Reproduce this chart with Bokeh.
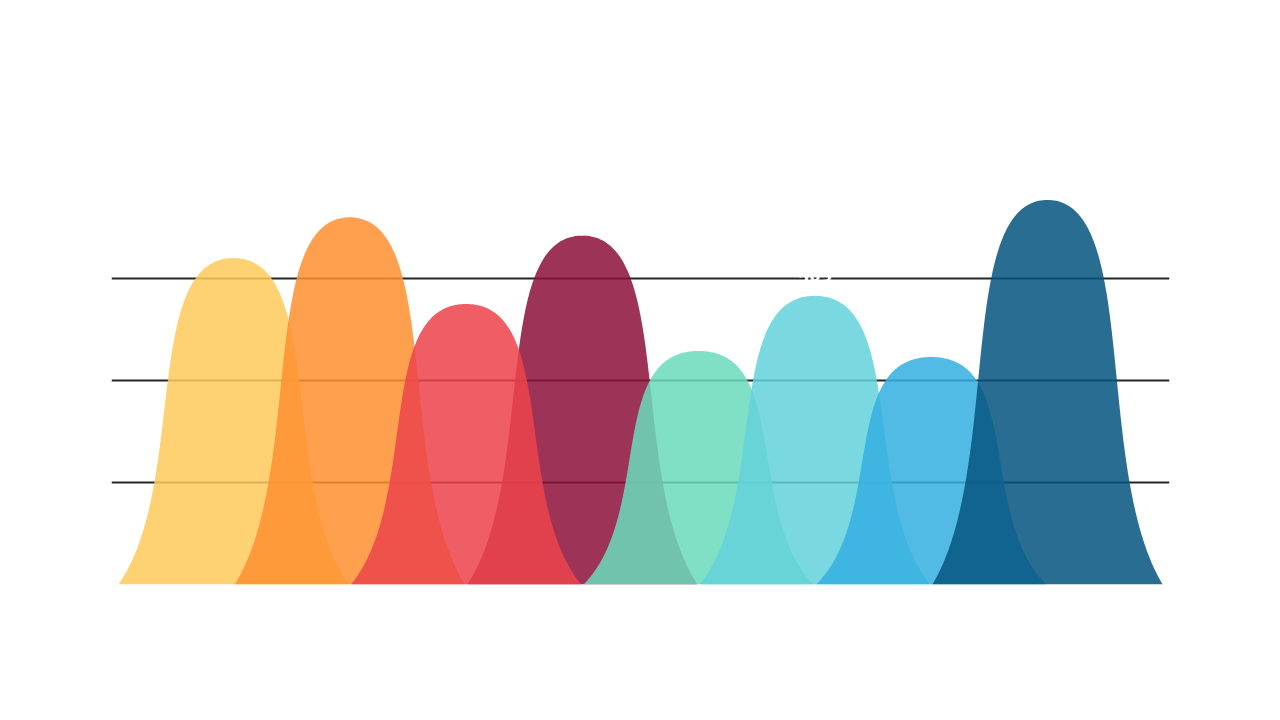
import numpy as np
from bokeh.plotting import figure
from bokeh.models import Range1d, FixedTicker, ColumnDataSource
from bokeh.core.properties import value
from bokeh.embed import file_html
from bokeh.resources import INLINE

# ---- data ----
categories = [0, 1, 2, 3, 4, 5, 6, 7]
values = [320, 360, 275, 342, 229, 283, 223, 377]
labels = [str(v) for v in values]
colors = ["#FEC95C", "#FE9031", "#EC434A", "#8E123D",
          "#6BDBBD", "#64D2DB", "#36B0E1", "#075580"]
draw_order = [0, 1, 3, 2, 4, 5, 6, 7]
grid_ticks = [100, 200, 300]

# ---- mountain symbol: right half is one cubic Bezier in (half-width, height) units
# (like an SVG path "M0,10 L10,10 C7,7 9,0 5,0 C1,0 3,7 0,10 z")
B0, B1, B2, B3 = (1.0, 0.0), (0.4, 0.3), (0.8, 1.0), (0.0, 1.0)
t = np.linspace(0, 1, 120)[:, None]
curve = ((1 - t) ** 3 * np.array(B0) + 3 * (1 - t) ** 2 * t * np.array(B1) +
         3 * (1 - t) * t ** 2 * np.array(B2) + t ** 3 * np.array(B3))
prof_h, prof_f = curve[:, 0], curve[:, 1]
HALF_W = 0.99

xs, ys, fills = [], [], []
for i in draw_order:
    c, v = categories[i], values[i]
    right_x = c + HALF_W * prof_h
    left_x = c - HALF_W * prof_h[::-1]
    x = np.concatenate([right_x, left_x[1:]])
    y = np.concatenate([v * prof_f, (v * prof_f[::-1])[1:]])
    xs.append(list(x))
    ys.append(list(y))
    fills.append(colors[i])

W, H = 1264, 704
px_per_unit = (1047 - 233) / 7.0
x_start = (111 - 233) / px_per_unit
x_end = (1169 - 233) / px_per_unit

p = figure(width=W, height=H, output_backend="svg", toolbar_location=None,
           x_range=Range1d(x_start, x_end), y_range=Range1d(0, 400),
           min_border_left=111, min_border_right=95,
           min_border_top=176, min_border_bottom=120)
p.xaxis.visible = False
p.yaxis.visible = False
p.xgrid.visible = False
p.ygrid.ticker = FixedTicker(ticks=grid_ticks)
p.ygrid.grid_line_color = "#262626"
p.ygrid.grid_line_width = 2
p.outline_line_color = None
p.background_fill_color = "white"
p.border_fill_color = "white"

p.patches(xs=xs, ys=ys, fill_color=fills, fill_alpha=0.86, line_color=None)

src = ColumnDataSource(dict(x=categories, y=values, t=labels))
p.text(x="x", y="y", text="t", source=src, text_color="white",
       text_font=value("Open Sans"), text_font_style="bold",
       text_font_size="20px", text_align="center",
       text_baseline="alphabetic", y_offset=-15)

open("out.html", "w").write(file_html(p, INLINE))
